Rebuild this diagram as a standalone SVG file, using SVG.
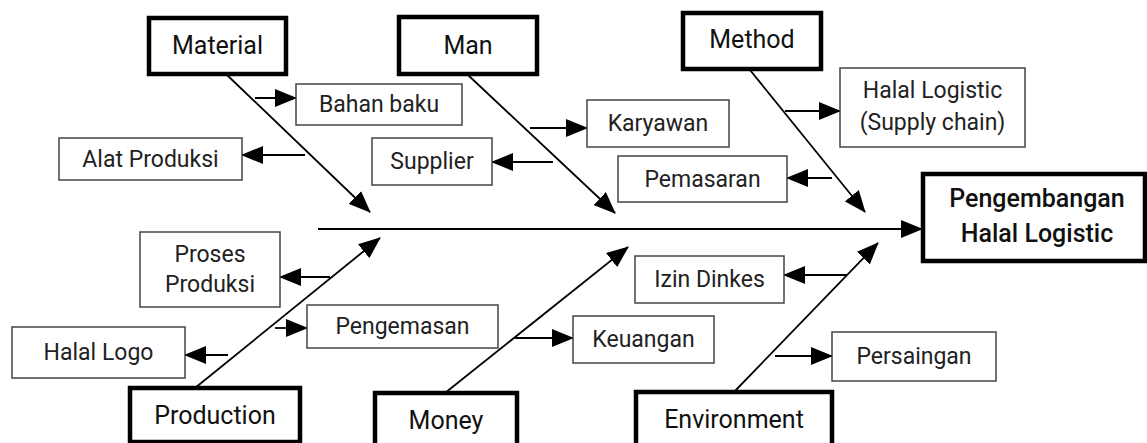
<svg xmlns="http://www.w3.org/2000/svg" width="1147" height="443" viewBox="0 0 1147 443">
<style>
.bg{fill:#fff}
.thin{fill:#fff;stroke:#444;stroke-width:1.5}
.thick{fill:#fff;stroke:#000;stroke-width:4.5}
.lbl{font-family:Roboto,"Liberation Sans",sans-serif;font-size:23px;fill:#222;text-anchor:middle}
.cat{font-family:Roboto,"Liberation Sans",sans-serif;font-size:25px;fill:#111;text-anchor:middle}
.eff{font-family:Roboto,"Liberation Sans",sans-serif;font-size:25px;font-weight:500;fill:#111;text-anchor:middle}
.ln{stroke:#000;stroke-width:1.8;fill:none;marker-end:url(#ah)}
</style>
<defs>
<marker id="ah" markerUnits="userSpaceOnUse" markerWidth="22" markerHeight="18" refX="21" refY="9" orient="auto">
<path d="M0,0 L22,9 L0,18 z" fill="#000"/>
</marker>
</defs>
<rect class="bg" x="0" y="0" width="1147" height="443"/>
<g id="connectors">
<line class="ln" x1="318" y1="229" x2="922" y2="229"/>
<line class="ln" x1="227" y1="75" x2="370" y2="212"/>
<line class="ln" x1="468" y1="75" x2="615" y2="213"/>
<line class="ln" x1="750" y1="70" x2="865" y2="212"/>
<line class="ln" x1="195" y1="388" x2="380" y2="238"/>
<line class="ln" x1="445" y1="393" x2="628" y2="247"/>
<line class="ln" x1="733" y1="393" x2="878" y2="243"/>
<line class="ln" x1="255" y1="98" x2="296" y2="98"/>
<line class="ln" x1="305" y1="155" x2="242" y2="155"/>
<line class="ln" x1="530" y1="128" x2="587" y2="128"/>
<line class="ln" x1="553" y1="162" x2="492" y2="162"/>
<line class="ln" x1="832" y1="178" x2="787" y2="178"/>
<line class="ln" x1="785" y1="111" x2="840" y2="111"/>
<line class="ln" x1="330" y1="277" x2="280" y2="277"/>
<line class="ln" x1="275" y1="328" x2="307" y2="328"/>
<line class="ln" x1="228" y1="355" x2="185" y2="355"/>
<line class="ln" x1="515" y1="338" x2="573" y2="338"/>
<line class="ln" x1="847" y1="275" x2="784" y2="275"/>
<line class="ln" x1="775" y1="356" x2="832" y2="356"/>
</g>
<g id="material"><rect class="thick" x="149" y="18" width="137" height="56"/><text class="cat" x="217.5" y="54">Material</text></g>
<g id="man"><rect class="thick" x="399" y="17" width="138" height="57"/><text class="cat" x="468" y="54">Man</text></g>
<g id="method"><rect class="thick" x="683" y="13" width="138" height="56"/><text class="cat" x="752" y="48">Method</text></g>
<g id="production"><rect class="thick" x="130" y="388" width="170" height="54"/><text class="cat" x="215" y="424">Production</text></g>
<g id="money"><rect class="thick" x="375" y="393" width="142" height="60"/><text class="cat" x="446" y="429">Money</text></g>
<g id="environment"><rect class="thick" x="636" y="392" width="196" height="60"/><text class="cat" x="734" y="428">Environment</text></g>
<g id="effect"><rect class="thick" x="923" y="174" width="222" height="87"/><text class="eff" x="1037" y="207">Pengembangan</text><text class="eff" x="1037" y="242">Halal Logistic</text></g>
<g id="bahan-baku"><rect class="thin" x="296" y="84" width="166" height="41"/><text class="lbl" x="379" y="112">Bahan baku</text></g>
<g id="alat-produksi"><rect class="thin" x="59" y="138" width="183" height="42"/><text class="lbl" x="150.5" y="167">Alat Produksi</text></g>
<g id="karyawan"><rect class="thin" x="587" y="100" width="142" height="47"/><text class="lbl" x="658" y="131">Karyawan</text></g>
<g id="supplier"><rect class="thin" x="372" y="138" width="120" height="47"/><text class="lbl" x="432" y="169">Supplier</text></g>
<g id="pemasaran"><rect class="thin" x="618" y="156" width="169" height="46"/><text class="lbl" x="702.5" y="187">Pemasaran</text></g>
<g id="halal-logistic"><rect class="thin" x="840" y="68" width="185" height="79"/><text class="lbl" x="932.5" y="98">Halal Logistic</text><text class="lbl" x="932.5" y="130">(Supply chain)</text></g>
<g id="proses-produksi"><rect class="thin" x="140" y="232" width="140" height="75"/><text class="lbl" x="210" y="262">Proses</text><text class="lbl" x="210" y="292">Produksi</text></g>
<g id="pengemasan"><rect class="thin" x="307" y="305" width="191" height="43"/><text class="lbl" x="402.5" y="334">Pengemasan</text></g>
<g id="halal-logo"><rect class="thin" x="12" y="327" width="173" height="51"/><text class="lbl" x="98.5" y="360">Halal Logo</text></g>
<g id="keuangan"><rect class="thin" x="573" y="316" width="141" height="47"/><text class="lbl" x="643.5" y="347">Keuangan</text></g>
<g id="izin-dinkes"><rect class="thin" x="635" y="256" width="149" height="47"/><text class="lbl" x="709.5" y="287">Izin Dinkes</text></g>
<g id="persaingan"><rect class="thin" x="832" y="332" width="164" height="49"/><text class="lbl" x="914" y="364">Persaingan</text></g>
</svg>
